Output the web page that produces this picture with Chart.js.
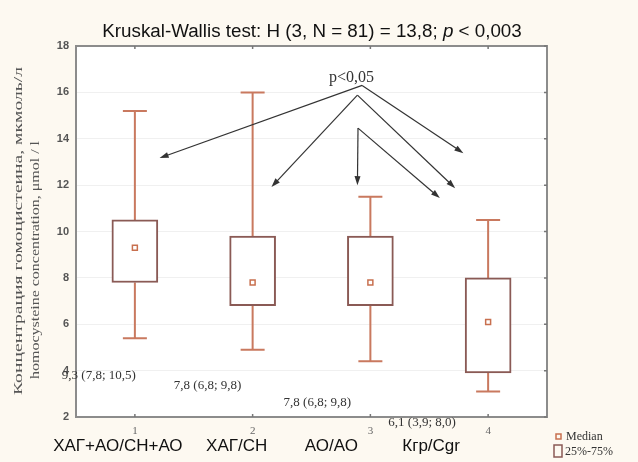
<!DOCTYPE html>
<html>
<head>
<meta charset="utf-8">
<script src="https://cdn.jsdelivr.net/npm/chart.js@4.4.1/dist/chart.umd.min.js"></script>
<style>
  html, body { margin: 0; padding: 0; background: #fdf9f1; }
  #wrap { width: 638px; height: 462px; }
</style>
</head>
<body>
<div id="wrap"><canvas id="boxChart" width="638" height="462"></canvas></div>
<script>
// --- DATA ---
const groupTicks = ['1', '2', '3', '4'];
const groupNames = ['ХАГ+АО/СН+АО', 'ХАГ/СН', 'АО/АО', 'Кгр/Cgr'];
const medians = [9.3, 7.8, 7.8, 6.1];
const q1 = [7.8, 6.8, 6.8, 3.9];
const q3 = [10.5, 9.8, 9.8, 8.0];
const whiskerLow = [5.4, 4.9, 4.4, 3.1];
const whiskerHigh = [15.2, 16.0, 11.5, 10.5];
const yTicks = [2, 4, 6, 8, 10, 12, 14, 16, 18];

const boxBorder = '#8a5a55';
const whiskerColor = '#c9795f';
const medianColor = '#c8704f';

const fmt = v => v.toFixed(1).replace('.', ',');

// annotation layout (data units: x = group number, y = value)
const valueLabels = [
    { dx: -36, y: 3.8 },
    { dx: -45, y: 3.37 },
    { dx: -53, y: 2.64 },
    { dx: -66, y: 1.75 }
];
const nameOffsets = [-17, -16, -39, -57];
const arrows = [
    { from: [2.93, 16.3], to: [1.21, 13.17] },
    { from: [2.93, 16.3], to: [3.79, 13.38] },
    { from: [2.89, 15.88], to: [2.16, 11.92] },
    { from: [2.89, 15.88], to: [3.72, 11.87] },
    { from: [2.895, 14.46], to: [2.89, 12.0] },
    { from: [2.895, 14.46], to: [3.59, 11.44] }
];

const drawExtras = {
    id: 'drawExtras',
    beforeDraw(chart) {
        const { ctx, chartArea: a } = chart;
        ctx.save();
        ctx.fillStyle = '#fdf9f1';
        ctx.fillRect(0, 0, chart.width, chart.height);
        ctx.fillStyle = '#ffffff';
        ctx.fillRect(a.left, a.top, a.right - a.left, a.bottom - a.top);
        ctx.restore();
    },
    beforeDatasetsDraw(chart) {
        const { ctx } = chart;
        const xs = chart.scales.x, ys = chart.scales.y;
        ctx.save();
        ctx.strokeStyle = whiskerColor;
        ctx.lineWidth = 2;
        groupTicks.forEach((g, i) => {
            const x = xs.getPixelForValue(i);
            const yHi = ys.getPixelForValue(whiskerHigh[i]);
            const yLo = ys.getPixelForValue(whiskerLow[i]);
            ctx.beginPath();
            ctx.moveTo(x, yHi); ctx.lineTo(x, ys.getPixelForValue(q3[i]));
            ctx.moveTo(x, ys.getPixelForValue(q1[i])); ctx.lineTo(x, yLo);
            ctx.moveTo(x - 12, yHi); ctx.lineTo(x + 12, yHi);
            ctx.moveTo(x - 12, yLo); ctx.lineTo(x + 12, yLo);
            ctx.stroke();
        });
        ctx.restore();
    },
    afterDatasetsDraw(chart) {
        const { ctx, chartArea: a } = chart;
        const xs = chart.scales.x, ys = chart.scales.y;
        const px = v => xs.getPixelForValue(v - 1);
        ctx.save();

        // frame + inner tick marks
        ctx.strokeStyle = '#8c8c8c';
        ctx.lineWidth = 2;
        ctx.strokeRect(a.left, a.top, a.right - a.left, a.bottom - a.top);
        ctx.strokeStyle = '#777';
        ctx.lineWidth = 1.5;
        ctx.beginPath();
        groupTicks.forEach((g, i) => {
            const x = xs.getPixelForValue(i);
            ctx.moveTo(x, a.top); ctx.lineTo(x, a.top + 3);
            ctx.moveTo(x, a.bottom); ctx.lineTo(x, a.bottom - 3);
        });
        yTicks.forEach(v => {
            const y = ys.getPixelForValue(v);
            ctx.moveTo(a.right, y); ctx.lineTo(a.right - 3, y);
        });
        ctx.stroke();

        // arrows
        ctx.strokeStyle = '#333';
        ctx.fillStyle = '#333';
        ctx.lineWidth = 1.2;
        arrows.forEach(ar => {
            const x0 = px(ar.from[0]), y0 = ys.getPixelForValue(ar.from[1]);
            const x1 = px(ar.to[0]), y1 = ys.getPixelForValue(ar.to[1]);
            const ang = Math.atan2(y1 - y0, x1 - x0);
            ctx.beginPath();
            ctx.moveTo(x0, y0); ctx.lineTo(x1 - 6 * Math.cos(ang), y1 - 6 * Math.sin(ang));
            ctx.stroke();
            ctx.beginPath();
            ctx.moveTo(x1, y1);
            ctx.lineTo(x1 - 9 * Math.cos(ang) + 3 * Math.sin(ang), y1 - 9 * Math.sin(ang) - 3 * Math.cos(ang));
            ctx.lineTo(x1 - 9 * Math.cos(ang) - 3 * Math.sin(ang), y1 - 9 * Math.sin(ang) + 3 * Math.cos(ang));
            ctx.closePath();
            ctx.fill();
        });
        ctx.fillStyle = '#333';
        ctx.font = "16px 'Liberation Serif'";
        ctx.textAlign = 'center';
        ctx.textBaseline = 'middle';
        ctx.fillText('p<0,05', px(2.84), ys.getPixelForValue(16.65));

        // value labels: median (q1; q3)
        ctx.font = "13px 'Liberation Serif'";
        ctx.fillStyle = '#333';
        medians.forEach((m, i) => {
            const lab = valueLabels[i];
            ctx.fillText(`${fmt(m)} (${fmt(q1[i])}; ${fmt(q3[i])})`,
                xs.getPixelForValue(i) + lab.dx, ys.getPixelForValue(lab.y));
        });

        // group names
        ctx.font = "17px 'Liberation Sans'";
        ctx.fillStyle = '#111';
        groupNames.forEach((n, i) => {
            ctx.fillText(n, xs.getPixelForValue(i) + nameOffsets[i], 446);
        });

        // title
        ctx.textAlign = 'left';
        const tf = "18.8px 'Liberation Sans'";
        const tfi = "italic 18.8px 'Liberation Sans'";
        const t1 = 'Kruskal-Wallis test: H (3, N = 81) = 13,8; ';
        const t3 = ' < 0,003';
        ctx.font = tf;
        const w1 = ctx.measureText(t1).width, w3 = ctx.measureText(t3).width;
        ctx.font = tfi;
        const w2 = ctx.measureText('p').width;
        const tx = 312 - (w1 + w2 + w3) / 2;
        ctx.fillStyle = '#111';
        ctx.font = tf;
        ctx.fillText(t1, tx, 32);
        ctx.font = tfi;
        ctx.fillText('p', tx + w1, 32);
        ctx.font = tf;
        ctx.fillText(t3, tx + w1 + w2, 32);

        // y axis title (two rotated lines)
        ctx.fillStyle = '#555';
        ctx.textAlign = 'center';
        const yLines = [
            { text: 'Концентрация гомоцистеина, мкмоль/л', x: 19, y: 231, len: 328 },
            { text: 'homocysteine concentration, μmol / l', x: 36, y: 260, len: 238 }
        ];
        ctx.font = "13px 'Liberation Serif'";
        yLines.forEach(l => {
            const w = ctx.measureText(l.text).width;
            ctx.save();
            ctx.translate(l.x, l.y);
            ctx.rotate(-Math.PI / 2);
            ctx.scale(l.len / w, 1);
            ctx.fillText(l.text, 0, 0);
            ctx.restore();
        });

        // legend
        ctx.textAlign = 'left';
        ctx.font = "12px 'Liberation Serif'";
        ctx.fillStyle = '#333';
        ctx.strokeStyle = medianColor;
        ctx.lineWidth = 1.5;
        ctx.strokeRect(556, 434, 5, 5);
        ctx.fillText('Median', 566, 437);
        ctx.strokeStyle = boxBorder;
        ctx.strokeRect(554, 445, 8, 12);
        ctx.fillText('25%-75%', 565, 452);

        ctx.restore();
    }
};

const ctx = document.getElementById('boxChart');
new Chart(ctx, {
    type: 'bar',
    data: {
        labels: groupTicks,
        datasets: [
            {
                type: 'line',
                label: 'Median',
                data: medians,
                showLine: false,
                pointStyle: 'rect',
                pointRadius: 3.5,
                pointBorderWidth: 1.5,
                pointBorderColor: medianColor,
                pointBackgroundColor: '#ffffff',
                order: 1
            },
            {
                label: '25%-75%',
                data: q1.map((v, i) => [v, q3[i]]),
                backgroundColor: '#ffffff',
                borderColor: boxBorder,
                borderWidth: 2,
                borderSkipped: false,
                barThickness: 46,
                order: 2
            }
        ]
    },
    options: {
        responsive: false,
        animation: false,
        devicePixelRatio: 1,
        layout: { padding: { top: 46, right: 91, left: 0, bottom: 0 } },
        scales: {
            x: {
                offset: true,
                grid: { display: false },
                border: { display: false },
                ticks: {
                    color: '#666',
                    font: { family: 'Liberation Serif', size: 11 },
                    padding: 0
                },
                afterFit: s => { s.height = 45; }
            },
            y: {
                min: 2,
                max: 18,
                afterBuildTicks: s => { s.ticks = yTicks.map(v => ({ value: v })); },
                grid: { color: '#f0f0f0', drawTicks: false },
                border: { display: false },
                ticks: {
                    color: '#555',
                    font: { family: 'Liberation Sans', size: 11, weight: 'bold' },
                    padding: 7
                },
                afterFit: s => { s.width = 76; }
            }
        },
        plugins: {
            legend: { display: false },
            tooltip: { enabled: false }
        }
    },
    plugins: [drawExtras]
});
</script>
</body>
</html>
